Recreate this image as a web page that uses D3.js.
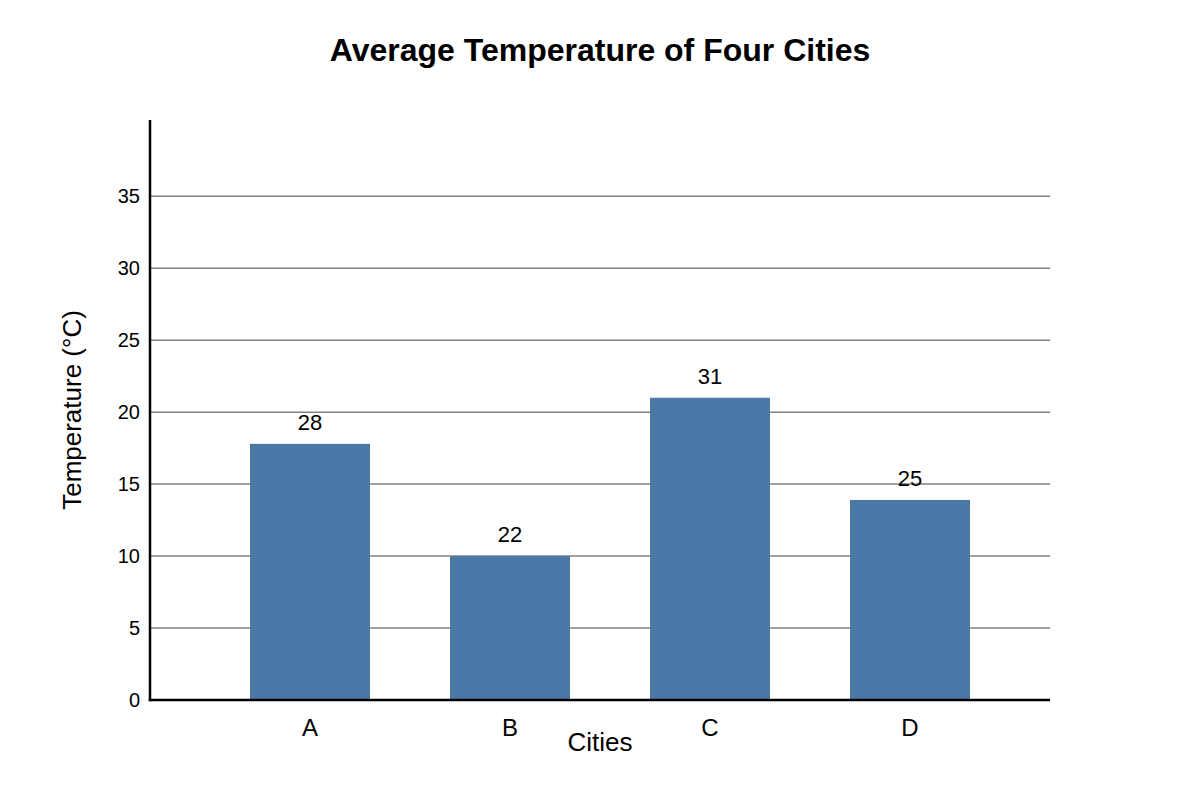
<!DOCTYPE html>
<html>
<head>
<meta charset="utf-8">
<script src="https://cdn.jsdelivr.net/npm/d3@7/dist/d3.min.js"></script>
<style>
  html, body { margin: 0; padding: 0; background: #fff; }
  svg { display: block; font-family: "Liberation Sans", Arial, sans-serif; }
</style>
</head>
<body>
<svg id="chart" width="1200" height="800"></svg>
<script>
// Data
const cities = ["A", "B", "C", "D"];
const barValues = [17.8, 10, 21, 13.9];      // bar heights as drawn (°C scale)
const labelValues = [28, 22, 31, 25];        // value labels shown above bars
const yTicks = [0, 5, 10, 15, 20, 25, 30, 35];
const yMax = 40.3;

const svg = d3.select("#chart");
const margin = { left: 150, right: 150, top: 120, bottom: 100 };
const W = 1200, H = 800;
const x0 = margin.left, x1 = W - margin.right;
const yTop = margin.top, yBot = H - margin.bottom;
const FONT = "Liberation Sans, Arial, sans-serif";

const x = d3.scaleBand().domain(cities).range([210, 1010]).paddingInner(0.4).paddingOuter(0.2);
const y = d3.scaleLinear().domain([0, yMax]).range([yBot, yTop]);

// Gridlines
svg.append("g").selectAll("line")
  .data(yTicks.filter(d => d > 0))
  .join("line")
  .attr("x1", x0).attr("x2", x1)
  .attr("y1", d => y(d)).attr("y2", d => y(d))
  .attr("stroke", "#808080").attr("stroke-width", 1.5);

// Bars
svg.append("g").selectAll("rect")
  .data(cities)
  .join("rect")
  .attr("x", d => x(d))
  .attr("width", x.bandwidth())
  .attr("y", (d, i) => y(barValues[i]))
  .attr("height", (d, i) => yBot - y(barValues[i]))
  .attr("fill", "#4c78a8");

// Value labels
svg.append("g").selectAll("text")
  .data(cities)
  .join("text")
  .attr("x", d => x(d) + x.bandwidth() / 2)
  .attr("y", (d, i) => y(barValues[i]) - 14)
  .attr("text-anchor", "middle")
  .attr("font-size", 22)
  .attr("fill", "#000")
  .text((d, i) => labelValues[i]);

// Y axis
const yAxis = d3.axisLeft(y).tickValues(yTicks).tickSize(0).tickPadding(10);
const gy = svg.append("g").attr("transform", `translate(${x0},0)`).call(yAxis);
gy.attr("font-size", 20).attr("font-family", FONT);
gy.select(".domain").remove();
gy.selectAll("text").attr("fill", "#000");

// X axis
const xAxis = d3.axisBottom(x).tickSize(0).tickPadding(10);
const gx = svg.append("g").attr("transform", `translate(0,${yBot})`).call(xAxis);
gx.attr("font-size", 24).attr("font-family", FONT);
gx.select(".domain").remove();
gx.selectAll("text").attr("fill", "#000").attr("dy", null).attr("y", 36);

// Axis lines
svg.append("line").attr("x1", x0).attr("x2", x0).attr("y1", yTop).attr("y2", yBot + 1.25)
  .attr("stroke", "#000").attr("stroke-width", 2.5);
svg.append("line").attr("x1", x0 - 1.25).attr("x2", x1).attr("y1", yBot).attr("y2", yBot)
  .attr("stroke", "#000").attr("stroke-width", 2.5);

// Title
svg.append("text").attr("x", W / 2).attr("y", 61).attr("text-anchor", "middle")
  .attr("font-size", 32).attr("font-weight", "bold").attr("fill", "#000")
  .text("Average Temperature of Four Cities");

// Axis titles
svg.append("text").attr("x", W / 2).attr("y", 751).attr("text-anchor", "middle")
  .attr("font-size", 26).attr("fill", "#000").text("Cities");
svg.append("text").attr("transform", `translate(81,${(yTop + yBot) / 2}) rotate(-90)`)
  .attr("text-anchor", "middle").attr("font-size", 26).attr("fill", "#000")
  .text("Temperature (°C)");
</script>
</body>
</html>
